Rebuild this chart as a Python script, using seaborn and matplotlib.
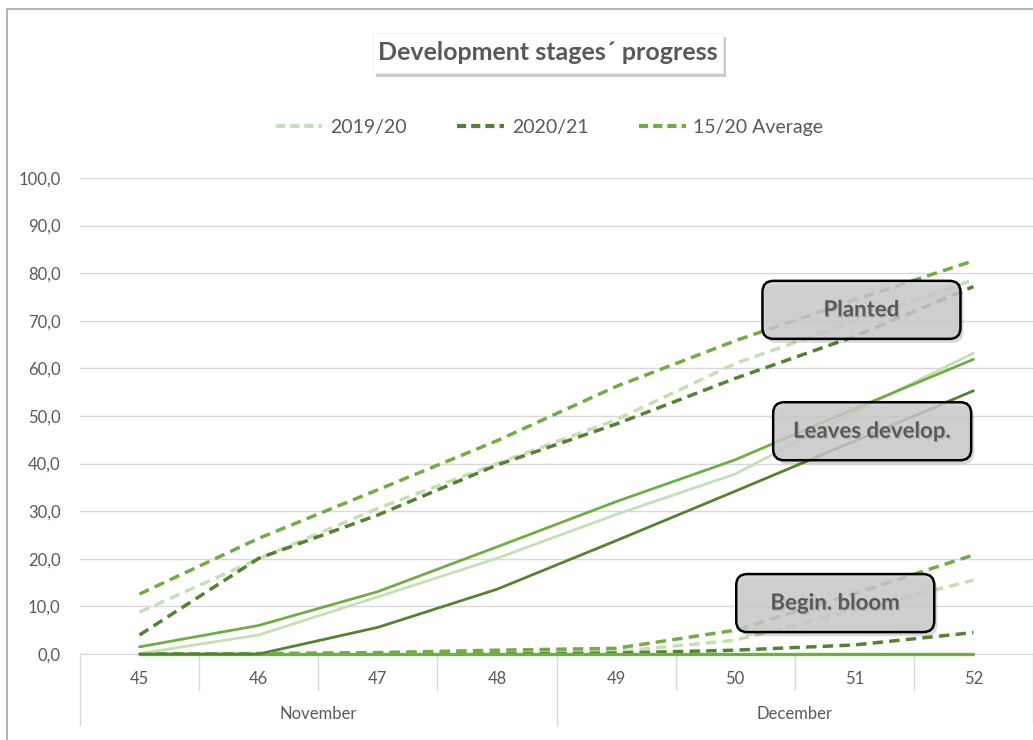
import matplotlib
matplotlib.use("Agg")
import matplotlib.pyplot as plt
import seaborn as sns
import numpy as np
from matplotlib.lines import Line2D
from matplotlib.patches import FancyBboxPatch
from matplotlib.transforms import IdentityTransform
import matplotlib.patheffects as pe

sns.set_style("white")
plt.rcParams['font.family'] = ['Lato', 'DejaVu Sans']

# data (week numbers, % progress)
weeks = [45, 46, 47, 48, 49, 50, 51, 52]
months = ["November", "December"]
seasons = ["2019/20", "2020/21", "15/20 Average"]

planted_1920 = [8.8, 20.0, 30.6, 40.0, 49.2, 61.0, 69.9, 78.6]
planted_2021 = [4.0, 20.1, 29.2, 39.7, 48.3, 57.9, 66.7, 77.2]
planted_avg = [12.6, 24.3, 34.5, 44.8, 56.2, 65.8, 74.4, 82.6]

leaves_1920 = [0.1, 4.0, 12.0, 20.1, 29.3, 37.8, 50.9, 63.2]
leaves_2021 = [0.0, 0.0, 5.6, 13.6, 23.8, 34.2, 44.7, 55.3]
leaves_avg = [1.5, 6.0, 13.1, 22.5, 32.0, 40.8, 51.5, 61.9]

bloom_1920 = [0.0, 0.0, 0.1, 0.3, 0.5, 2.9, 9.2, 15.5]
bloom_2021 = [0.0, 0.0, 0.0, 0.0, 0.2, 0.8, 1.9, 4.5]
bloom_avg = [0.0, 0.1, 0.3, 0.8, 1.2, 5.0, 12.7, 20.8]

other_avg = [0.0, 0.0, 0.0, 0.0, 0.0, 0.0, 0.0, 0.0]

colors = ["#C5E0B4", "#548235", "#70AD47"]
txt = "#595959"
grid = "#D9D9D9"

fig = plt.figure(figsize=(10.33, 7.4), dpi=100)
ax = fig.add_axes([80 / 1033, 86 / 740, 953 / 1033, 476 / 740])

dash = (3, 1.8)
# begin bloom + zero line first (bottom), then leaves, then planted
for vals, c in zip([bloom_1920, bloom_2021, bloom_avg], colors):
    sns.lineplot(x=weeks, y=vals, color=c, lw=2.5, ax=ax, legend=False)
    ax.lines[-1].set_dashes(dash)
sns.lineplot(x=weeks, y=other_avg, color=colors[2], lw=2.4, ax=ax, legend=False)
for vals, c in zip([leaves_1920, leaves_2021, leaves_avg], colors):
    sns.lineplot(x=weeks, y=vals, color=c, lw=2.0, ax=ax, legend=False)
for vals, c, s in zip([planted_1920, planted_2021, planted_avg], colors, seasons):
    sns.lineplot(x=weeks, y=vals, color=c, lw=2.5, ax=ax, legend=False)
    ax.lines[-1].set_dashes(dash)
for ln in ax.lines:
    ln.set_clip_on(False)

ax.set_xlim(44.5, 52.5)
ax.set_ylim(0, 100)
ax.set_yticks(np.arange(0, 101, 10))
ax.set_yticklabels([f"{v:.1f}".replace(".", ",") for v in np.arange(0, 101, 10)])
ax.set_xticks(weeks)
ax.set_xticklabels([str(w) for w in weeks])
ax.tick_params(axis='y', length=0, pad=14, labelsize=12, labelcolor=txt)
ax.tick_params(axis='x', length=0, pad=12, labelsize=12, labelcolor=txt)
ax.set_xlabel("")
ax.set_ylabel("")
ax.grid(axis='y', color=grid, lw=1)
ax.set_axisbelow(True)
for sp in ["left", "right", "top"]:
    ax.spines[sp].set_visible(False)
ax.spines["bottom"].set_color(grid)
ax.spines["bottom"].set_zorder(0.5)

# category separators
xt = ax.get_xaxis_transform()
for b in [45.5, 46.5, 47.5, 49.5, 50.5, 51.5]:
    ax.plot([b, b], [0, -0.076], color=grid, lw=1, transform=xt, clip_on=False, zorder=0.5)
for b in [44.5, 48.5, 52.5]:
    ax.plot([b, b], [0, -0.149], color=grid, lw=1, transform=xt, clip_on=False, zorder=0.5)
ax.text(46.5, -0.126, months[0], transform=xt, ha='center', va='center', fontsize=12, color=txt)
ax.text(50.5, -0.126, months[1], transform=xt, ha='center', va='center', fontsize=12, color=txt)

# legend
handles = [Line2D([], [], color=c, lw=3, dashes=(2.2, 1.2)) for c in colors]
fig.legend(handles, seasons, loc='center', bbox_to_anchor=(0.532, 1 - 127 / 740), ncol=3,
           frameon=False, fontsize=14, labelcolor=txt, handlelength=2.4, handletextpad=0.4,
           columnspacing=2.6)

# title with shadow box
fig.canvas.draw()
ident = IdentityTransform()
tx0, ty0, tw, th = 373, 740 - 73, 350, 40
fig.add_artist(FancyBboxPatch((tx0 + 3, ty0 - 4), tw, th, boxstyle="square,pad=0",
                              fc=(0, 0, 0, 0.2), ec='none', transform=ident))
fig.add_artist(FancyBboxPatch((tx0, ty0), tw, th, boxstyle="square,pad=0",
                              fc='white', ec='#EEEEEE', lw=0.5, transform=ident))
fig.text(548 / 1033, 1 - 52 / 740, "Development stages\u00b4 progress", ha='center', va='center',
         fontsize=18, fontweight='bold', color=txt)

# stage labels in rounded boxes
labels = [("Planted", 51.06, 72.3), ("Leaves develop.", 51.15, 46.8), ("Begin. bloom", 50.84, 10.7)]
bw, bh = 198, 58
for name, xc, yc in labels:
    px, py = ax.transData.transform((xc, yc))
    sh = FancyBboxPatch((px - bw / 2 + 3, py - bh / 2 - 4), bw, bh,
                        boxstyle="round,pad=0,rounding_size=11",
                        fc=(0, 0, 0, 0.15), ec='none', transform=ident, zorder=9)
    box = FancyBboxPatch((px - bw / 2, py - bh / 2), bw, bh,
                         boxstyle="round,pad=0,rounding_size=11",
                         fc=(0.8, 0.8, 0.8, 0.82), ec='black', lw=1.8, transform=ident, zorder=10)
    fig.add_artist(sh)
    fig.add_artist(box)
    t = fig.text(px / 1033, py / 740, name, ha='center', va='center', fontsize=16,
                 fontweight='bold', color=txt, zorder=11)
    t.set_path_effects([pe.withSimplePatchShadow(offset=(1, -1), shadow_rgbFace='#999999', alpha=0.4)])

# outer chart border (top and left)
fig.add_artist(Line2D([7 / 1033, 7 / 1033], [0, 1 - 9 / 740], color='#A6A6A6', lw=1.2,
                      transform=fig.transFigure))
fig.add_artist(Line2D([7 / 1033, 1], [1 - 9 / 740, 1 - 9 / 740], color='#A6A6A6', lw=1.2,
                      transform=fig.transFigure))

fig.savefig("out.png", dpi=100)
